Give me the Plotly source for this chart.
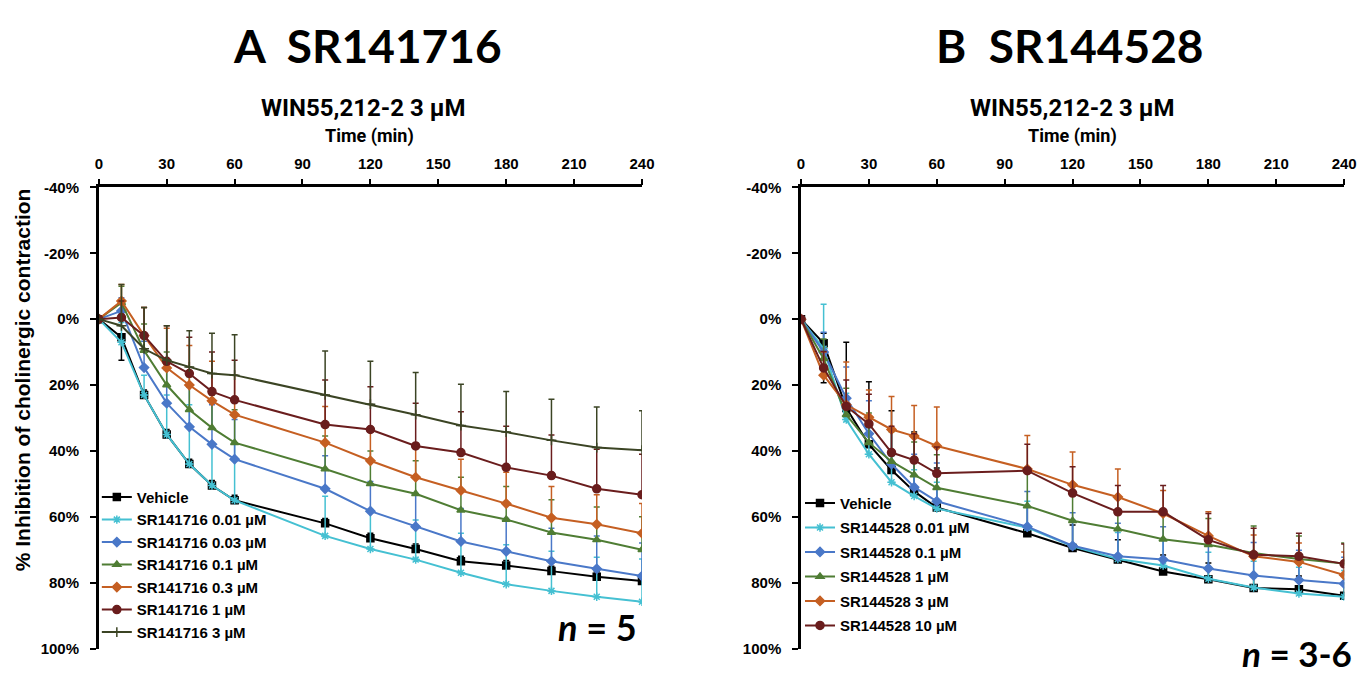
import plotly.graph_objects as go

W, H = 1371, 677

time_min = [0, 10, 20, 30, 40, 50, 60, 100, 120, 140, 160, 180, 200, 220, 240]

# ---- Panel A: SR141716 (values in % inhibition) ----
a_names = ["Vehicle", "SR141716 0.01 µM", "SR141716 0.03 µM", "SR141716 0.1 µM",
           "SR141716 0.3 µM", "SR141716 1 µM", "SR141716 3 µM"]
a_vehicle = [0, 5.5, 23, 35, 44, 50.5, 55, 62, 66.5, 69.8, 73.5, 74.8, 76.5, 78.2, 79.5]
a_001 = [0, 7, 23, 35, 44, 50.5, 55, 65.8, 69.8, 73, 77, 80.5, 82.5, 84.3, 85.8]
a_003 = [0, -2.5, 14.7, 25.5, 32.7, 38, 42.5, 51.5, 58.3, 63, 67.5, 70.5, 73.5, 75.8, 78]
a_01 = [0, -5, 9.5, 20, 27.5, 33, 37.5, 45.5, 50, 53, 58, 60.8, 64.8, 67, 70]
a_03 = [0, -5.5, 5, 14.8, 20, 24.8, 29, 37.5, 43, 48, 52, 56, 60.3, 62.3, 65]
a_1 = [0, -0.5, 5, 12.8, 16.5, 22, 24.5, 32, 33.5, 38.5, 40.5, 45, 47.5, 51.5, 53.3]
a_3 = [0, 2, 9, 12.5, 14.5, 16.5, 17, 23, 25.8, 29, 32.3, 34.3, 36.8, 39, 39.8]

# error bars (upward on the reversed axis = minus) and downward (plus)
a_vehicle_up = [0, 1, 1.5, 1.5, 1.5, 1.5, 1.5, 1.5, 1.5, 1.5, 1.5, 1.5, 1.5, 1.5, 1.5]
a_vehicle_dn = [0, 7, 0, 0, 0, 0, 0, 0, 0, 0, 0, 0, 0, 0, 0]
a_001_up = [0, 6, 6, 12, 18, 13, 17, 12, 12, 12, 12, 12, 12, 12, 13]
a_003_up = [0, 4, 8, 10, 12, 12, 12, 10, 9, 10, 10, 10, 10, 10, 10]
a_01_up = [0, 5, 8, 10, 10, 10, 10, 10, 10, 10, 10, 10, 10, 10, 10]
a_03_up = [0, 5, 8.5, 12, 12, 12, 12, 11, 10, 10, 9.5, 9.5, 9.5, 9, 9]
a_1_up = [0, 5, 8.5, 10.8, 11, 12, 12, 13.5, 13, 13, 12.4, 12.5, 12.3, 12, 12.3]
a_3_up = [0, 12.5, 12.5, 10.5, 11, 12.2, 12.3, 13.3, 13, 12.8, 12.5, 12.3, 12.5, 12.3, 12]

# ---- Panel B: SR144528 ----
b_names = ["Vehicle", "SR144528 0.01 µM", "SR144528 0.1 µM", "SR144528 1 µM",
           "SR144528 3 µM", "SR144528 10 µM"]
b_vehicle = [0, 7.3, 27, 38, 45.8, 52.3, 57.2, 65, 69.5, 73, 76.6, 79, 81.6, 82, 84]
b_001 = [0, 9, 30.5, 41, 49.5, 53.7, 57.5, 63.3, 69, 72.8, 74.8, 78.8, 81.5, 83.3, 84.3]
b_01 = [0, 10, 24, 34.8, 44, 51, 55.3, 63, 68.8, 72, 73, 75.7, 77.8, 79.2, 80.3]
b_1 = [0, 12, 29, 37.5, 43.2, 47.3, 51.2, 56.7, 61.2, 63.7, 66.8, 68.5, 71, 72.8, 74.2]
b_3 = [0, 17, 26, 29.8, 33.5, 35.5, 38.5, 45.5, 50.3, 54, 59, 65.8, 72, 73.7, 77.7]
b_10 = [0, 14.8, 26.5, 31.8, 40.5, 42.8, 46.8, 46, 52.8, 58.5, 58.5, 67, 71.5, 72, 74.3]

b_vehicle_up = [0, 3, 20, 19, 18, 18, 12, 8, 7, 6, 5, 5, 4, 4, 4]
b_vehicle_dn = [0, 12, 0, 0, 0, 0, 0, 0, 0, 0, 0, 0, 0, 0, 0]
b_001_up = [0, 13.5, 8, 8, 8, 8, 8, 8, 8, 8, 8, 8, 8, 8, 8]
b_01_up = [0, 6, 9.5, 10, 10, 10, 11.6, 10.7, 10, 10, 10, 10, 10, 9, 8]
b_1_up = [0, 6, 8, 9, 9, 10, 10, 10, 9, 9, 9, 8, 8.2, 7, 6.2]
b_3_up = [0, 7, 13, 8.3, 10, 9.3, 11.8, 10.2, 10, 8.5, 7, 7.3, 6.5, 5.7, 7]
b_10_up = [0, 5, 8, 9, 8, 8, 8, 8, 8, 8, 8, 8, 8, 7, 6]

y_ticks = [-40, -20, 0, 20, 40, 60, 80, 100]
x_ticks = [0, 30, 60, 90, 120, 150, 180, 210, 240]

C_BLACK = "#000000"
C_CYAN = "#45C0D2"
C_BLUE = "#4A78C8"
C_GREEN = "#4F7D34"
C_ORANGE = "#C55F22"
C_DRED = "#6A1D1D"
C_OLIVE = "#3B4424"

FONT = "Liberation Sans"
NARROW = "Roboto"
TITLEF = "Lato"

fig = go.Figure()


def add_series(name, vals, up, dn, color, symbol, msize, xa, ya, legend, group):
    fig.add_trace(go.Scatter(
        x=time_min, y=[v / 100 for v in vals], name=name, mode="lines+markers",
        xaxis=xa, yaxis=ya, legend=legend, legendgroup=group,
        line=dict(color=color, width=2),
        marker=dict(symbol=symbol, size=msize, color=color,
                    line=dict(color=color, width=1.5)),
        error_y=dict(type="data", symmetric=False,
                     array=[v / 100 for v in dn] if dn else [0] * len(vals),
                     arrayminus=[v / 100 for v in up],
                     color=color, thickness=1.5, width=3),
    ))


a_series = [
    (a_vehicle, a_vehicle_up, a_vehicle_dn, C_BLACK, "square", 7),
    (a_001, a_001_up, None, C_CYAN, "asterisk-open", 7),
    (a_003, a_003_up, None, C_BLUE, "diamond", 7),
    (a_01, a_01_up, None, C_GREEN, "triangle-up", 7),
    (a_03, a_03_up, None, C_ORANGE, "diamond", 7),
    (a_1, a_1_up, None, C_DRED, "circle", 8),
    (a_3, a_3_up, None, C_OLIVE, "cross-thin-open", 7),
]
for i, (vals, up, dn, col, sym, ms) in enumerate(a_series):
    add_series(a_names[i], vals, up, dn, col, sym, ms, "x", "y", "legend", "a%d" % i)

b_series = [
    (b_vehicle, b_vehicle_up, b_vehicle_dn, C_BLACK, "square", 7),
    (b_001, b_001_up, None, C_CYAN, "asterisk-open", 7),
    (b_01, b_01_up, None, C_BLUE, "diamond", 7),
    (b_1, b_1_up, None, C_GREEN, "triangle-up", 7),
    (b_3, b_3_up, None, C_ORANGE, "diamond", 7),
    (b_10, b_10_up, None, C_DRED, "circle", 8),
]
for i, (vals, up, dn, col, sym, ms) in enumerate(b_series):
    add_series(b_names[i], vals, up, dn, col, sym, ms, "x2", "y2", "legend2", "b%d" % i)

ydom = [1 - 656 / H, 1 - 183 / H]


def xaxis_cfg(x0, x1, anchor):
    return dict(domain=[x0 / W, x1 / W], range=[0, 240], side="top", anchor=anchor,
                tickmode="array", tickvals=x_ticks, ticks="outside", ticklen=6,
                tickwidth=2, tickcolor="black", showline=True, linewidth=2.5,
                linecolor="black", showgrid=False, zeroline=False,
                ticklabelstandoff=4,
                tickfont=dict(family=FONT, size=15, color="black", weight="bold"))


def yaxis_cfg(anchor):
    return dict(domain=ydom, range=[1.0, -0.4], anchor=anchor,
                tickmode="array", tickvals=[v / 100 for v in y_ticks],
                ticktext=["%d%%" % v for v in y_ticks],
                ticks="outside", ticklen=6, tickwidth=2, tickcolor="black",
                showline=True, linewidth=2.5, linecolor="black",
                showgrid=False, zeroline=False, ticklabelstandoff=8,
                tickfont=dict(family=FONT, size=15, color="black", weight="bold"))


legend_font = dict(family=FONT, size=15, color="black", weight="bold")

fig.update_layout(
    width=W, height=H,
    margin=dict(l=0, r=0, t=0, b=0),
    paper_bgcolor="white", plot_bgcolor="white",
    xaxis=xaxis_cfg(96, 646, "y"),
    yaxis=yaxis_cfg("x"),
    xaxis2=xaxis_cfg(807, 1357, "y2"),
    yaxis2=yaxis_cfg("x2"),
    legend=dict(x=94 / W, y=1 - 484 / H, xanchor="left", yanchor="top",
                bgcolor="rgba(0,0,0,0)", font=legend_font, tracegroupgap=0,
                itemwidth=30),
    legend2=dict(x=806 / W, y=1 - 490 / H, xanchor="left", yanchor="top",
                 bgcolor="rgba(0,0,0,0)", font=legend_font, tracegroupgap=2,
                 itemwidth=30),
    showlegend=True,
)

annots = [
    dict(text="A  SR141716", x=368 / W, y=1 - 37 / H, size=46, family=TITLEF),
    dict(text="B  SR144528", x=1079 / W, y=1 - 37 / H, size=46, family=TITLEF),
    dict(text="WIN55,212-2 3 µM", x=364 / W, y=1 - 102 / H, size=24, family=NARROW),
    dict(text="WIN55,212-2 3 µM", x=1081 / W, y=1 - 102 / H, size=24, family=NARROW),
    dict(text="Time (min)", x=370 / W, y=1 - 130 / H, size=18, family=NARROW),
    dict(text="Time (min)", x=1082 / W, y=1 - 130 / H, size=18, family=NARROW),
]
for a in annots:
    fig.add_annotation(text=a["text"], x=a["x"], y=a["y"], xref="paper", yref="paper",
                       xanchor="center", yanchor="middle", showarrow=False,
                       font=dict(family=a["family"], size=a["size"], color="black",
                                 weight="bold"))

fig.add_annotation(text="% Inhibition of cholinergic contraction", textangle=-90,
                   x=19 / W, y=1 - 380 / H, xref="paper", yref="paper",
                   xanchor="center", yanchor="middle", showarrow=False,
                   font=dict(family=FONT, size=21, color="black", weight="bold"))

fig.add_annotation(text="<i>n</i> = 5", x=643 / W, y=1 - 634 / H, xref="paper",
                   yref="paper", xanchor="right", yanchor="middle", showarrow=False,
                   font=dict(family=TITLEF, size=36, color="black", weight="bold"))
fig.add_annotation(text="<i>n</i> = 3-6", x=1367 / W, y=1 - 661 / H, xref="paper",
                   yref="paper", xanchor="right", yanchor="middle", showarrow=False,
                   font=dict(family=TITLEF, size=35, color="black", weight="bold"))

fig.write_html("out.html")
